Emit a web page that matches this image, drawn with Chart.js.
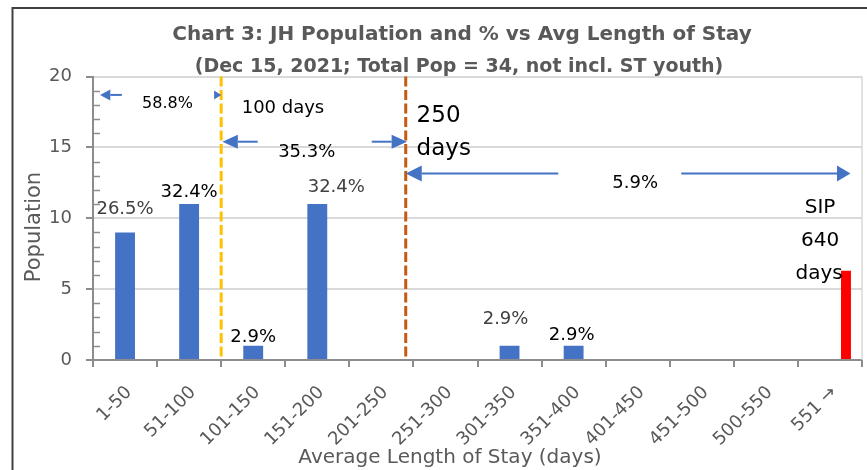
<!DOCTYPE html>
<html>
<head>
<meta charset="utf-8">
<script src="https://cdn.jsdelivr.net/npm/chart.js@4/dist/chart.umd.min.js"></script>
<style>
  html, body { margin: 0; padding: 0; background: #fff; overflow: hidden; }
  #wrap { position: relative; width: 867px; height: 470px; }
</style>
</head>
<body>
<div id="wrap"><canvas id="chart" width="867" height="470"></canvas></div>
<script>
// Length-of-stay buckets (days)
const categories = ['1-50', '51-100', '101-150', '151-200', '201-250', '251-300',
                    '301-350', '351-400', '401-450', '451-500', '500-550', '551 \u2192'];
// Youth in custody per bucket
const population = [9, 11, 1, 11, 0, 0, 1, 1, 0, 0, 0, 0];
// SIP youth (640 days) shown beside the last bucket
const sipBar = [null, null, null, null, null, null, null, null, null, null, null, 6.3];
const totalPop = 34;
const yTickValues = [0, 5, 10, 15, 20];

const titleLines = ['Chart 3: JH Population and % vs Avg Length of Stay',
                    '(Dec 15, 2021; Total Pop = 34, not incl. ST youth)'];
const xTitle = 'Average Length of Stay (days)';
const yTitle = 'Population';

const FONT = '"DejaVu Sans", sans-serif';
const BLUE = '#4472C4';

// Percent-of-total label placement per bucket (offset from bar top, px)
const labelPlacement = {
  0: { dx: 0,  dy: -23, color: '#404040' },
  1: { dx: 0,  dy: -12, color: '#000000' },
  2: { dx: 0,  dy: -8,  color: '#000000' },
  3: { dx: 19, dy: -17, color: '#404040' },
  6: { dx: -4, dy: -26, color: '#404040' },
  7: { dx: -2, dy: -10, color: '#000000' }
};

// Threshold lines, in category-boundary units (0 = left edge, 12 = right edge)
const thresholds = [
  { at: 2.0,  color: '#FFC000' },
  { at: 4.88, color: '#C55A11' }
];

// Range arrows: shafts and heads in boundary units / population units
const arrowRows = [
  { y: 18.7,  shafts: [[0.27, 0.45]], heads: [[0.11, 0.27, 5.5], [2.0, 1.89, 4.5]] },
  { y: 15.4,  shafts: [[2.26, 2.57], [4.35, 4.66]], heads: [[2.02, 2.26, 7], [4.90, 4.66, 7]] },
  { y: 13.16, shafts: [[5.13, 7.26], [9.18, 11.61]], heads: [[4.88, 5.13, 8], [11.82, 11.61, 8]] }
];

// Free text notes: b = boundary units, v = population units (baseline)
const notes = [
  { text: '58.8%',    b: 1.163, v: 17.78, size: 16, align: 'center' },
  { text: '100 days', b: 2.32,  v: 17.45, size: 18, align: 'left' },
  { text: '35.3%',    b: 3.335, v: 14.35, size: 18, align: 'center' },
  { text: '250',      b: 5.05,  v: 16.82, size: 23, align: 'left' },
  { text: 'days',     b: 5.05,  v: 14.47, size: 23, align: 'left' },
  { text: '5.9%',     b: 8.46,  v: 12.12, size: 18, align: 'center' },
  { text: 'SIP',      b: 11.345, v: 10.37, size: 20, align: 'center' },
  { text: '640',      b: 11.345, v: 8.07,  size: 20, align: 'center' },
  { text: 'days',     b: 11.33,  v: 5.72,  size: 20, align: 'center' }
];

const decor = {
  id: 'decor',
  beforeDraw(chart) {
    const ctx = chart.ctx;
    ctx.save();
    ctx.fillStyle = '#ffffff';
    ctx.fillRect(0, 0, chart.width, chart.height);
    // outer frame
    ctx.strokeStyle = '#404040';
    ctx.lineWidth = 2;
    ctx.beginPath();
    ctx.moveTo(12.5, chart.height + 5);
    ctx.lineTo(12.5, 8);
    ctx.lineTo(chart.width + 5, 8);
    ctx.stroke();
    // title
    ctx.fillStyle = '#595959';
    ctx.textAlign = 'center';
    ctx.textBaseline = 'alphabetic';
    ctx.font = 'bold 20px ' + FONT;
    ctx.fillText(titleLines[0], 462, 40);
    ctx.font = 'bold 19px ' + FONT;
    ctx.fillText(titleLines[1], 459, 71.5);
    ctx.restore();
  },
  afterDatasetsDraw(chart) {
    const ctx = chart.ctx;
    const xs = chart.scales.x, ys = chart.scales.y;
    const area = chart.chartArea;
    const bx = b => xs.getPixelForValue(b - 0.5);
    const vy = v => ys.getPixelForValue(v);
    ctx.save();

    // right edge of plot area
    ctx.strokeStyle = '#d9d9d9';
    ctx.lineWidth = 1.5;
    ctx.beginPath();
    ctx.moveTo(area.right, area.top);
    ctx.lineTo(area.right, area.bottom);
    ctx.stroke();

    // minor ticks on the value axis
    ctx.strokeStyle = '#8c8c8c';
    ctx.lineWidth = 1.5;
    for (let v = ys.min + 1; v < ys.max; v++) {
      if (yTickValues.includes(v)) continue;
      const y = Math.round(vy(v)) + 0.5;
      ctx.beginPath();
      ctx.moveTo(area.left, y);
      ctx.lineTo(area.left + 7, y);
      ctx.stroke();
    }

    // percent labels above bars
    const meta = chart.getDatasetMeta(0);
    ctx.font = '18px ' + FONT;
    ctx.textAlign = 'center';
    ctx.textBaseline = 'middle';
    population.forEach((val, i) => {
      const p = labelPlacement[i];
      if (!val || !p) return;
      const el = meta.data[i];
      ctx.fillStyle = p.color;
      ctx.fillText((val / totalPop * 100).toFixed(1) + '%', el.x + p.dx, el.y + p.dy);
    });

    // dashed threshold lines
    ctx.lineWidth = 3;
    ctx.setLineDash([10, 3.5]);
    thresholds.forEach(t => {
      ctx.strokeStyle = t.color;
      ctx.beginPath();
      ctx.moveTo(bx(t.at), vy(ys.max));
      ctx.lineTo(bx(t.at), vy(0));
      ctx.stroke();
    });
    ctx.setLineDash([]);

    // range arrows
    ctx.strokeStyle = BLUE;
    ctx.fillStyle = BLUE;
    ctx.lineWidth = 2;
    arrowRows.forEach(r => {
      const y = vy(r.y);
      r.shafts.forEach(([a, b]) => {
        ctx.beginPath();
        ctx.moveTo(bx(a), y);
        ctx.lineTo(bx(b), y);
        ctx.stroke();
      });
      r.heads.forEach(([tip, base, half]) => {
        ctx.beginPath();
        ctx.moveTo(bx(tip), y);
        ctx.lineTo(bx(base), y - half);
        ctx.lineTo(bx(base), y + half);
        ctx.closePath();
        ctx.fill();
      });
    });

    // notes
    ctx.fillStyle = '#000000';
    ctx.textBaseline = 'alphabetic';
    notes.forEach(n => {
      ctx.font = n.size + 'px ' + FONT;
      ctx.textAlign = n.align;
      ctx.fillText(n.text, bx(n.b), vy(n.v));
    });

    // axis titles
    ctx.fillStyle = '#595959';
    ctx.font = '20px ' + FONT;
    ctx.textAlign = 'center';
    ctx.fillText(xTitle, 450, 463);
    ctx.translate(40, 227);
    ctx.rotate(-Math.PI / 2);
    ctx.font = '21px ' + FONT;
    ctx.fillText(yTitle, 0, 0);
    ctx.restore();
  }
};

new Chart(document.getElementById('chart'), {
  type: 'bar',
  data: {
    labels: categories,
    datasets: [
      { label: 'Population', data: population, backgroundColor: BLUE,
        barPercentage: 0.31, categoryPercentage: 1 },
      { label: 'SIP', data: sipBar, backgroundColor: '#FF0000',
        barPercentage: 0.31, categoryPercentage: 1 }
    ]
  },
  options: {
    responsive: false,
    animation: false,
    datasets: { bar: { skipNull: true } },
    layout: { padding: { top: 76.5, right: 5, left: 0, bottom: 0 } },
    plugins: {
      legend: { display: false },
      title: { display: false },
      tooltip: { enabled: false }
    },
    scales: {
      x: {
        offset: true,
        grid: { display: true, offset: true, drawOnChartArea: false, drawTicks: true,
                tickLength: 7, color: '#8c8c8c', lineWidth: 2 },
        border: { display: true, color: '#8c8c8c', width: 2 },
        ticks: { font: { family: FONT, size: 18 }, color: '#595959',
                 minRotation: 45, maxRotation: 45, autoSkip: false,
                 padding: 15, labelOffset: 4 },
        afterFit(s) { s.height = 110; }
      },
      y: {
        min: 0, max: 20,
        afterBuildTicks(s) { s.ticks = yTickValues.map(v => ({ value: v })); },
        ticks: { font: { family: FONT, size: 18 }, color: '#595959', padding: 14 },
        grid: { color: c => (c.tick && c.tick.value === 0) ? 'rgba(0,0,0,0)' : '#d9d9d9',
                lineWidth: 2, tickColor: '#8c8c8c', tickLength: 7, tickWidth: 2 },
        border: { color: '#8c8c8c', width: 2 },
        afterFit(s) { s.width = 93; }
      }
    }
  },
  plugins: [decor]
});
</script>
</body>
</html>
